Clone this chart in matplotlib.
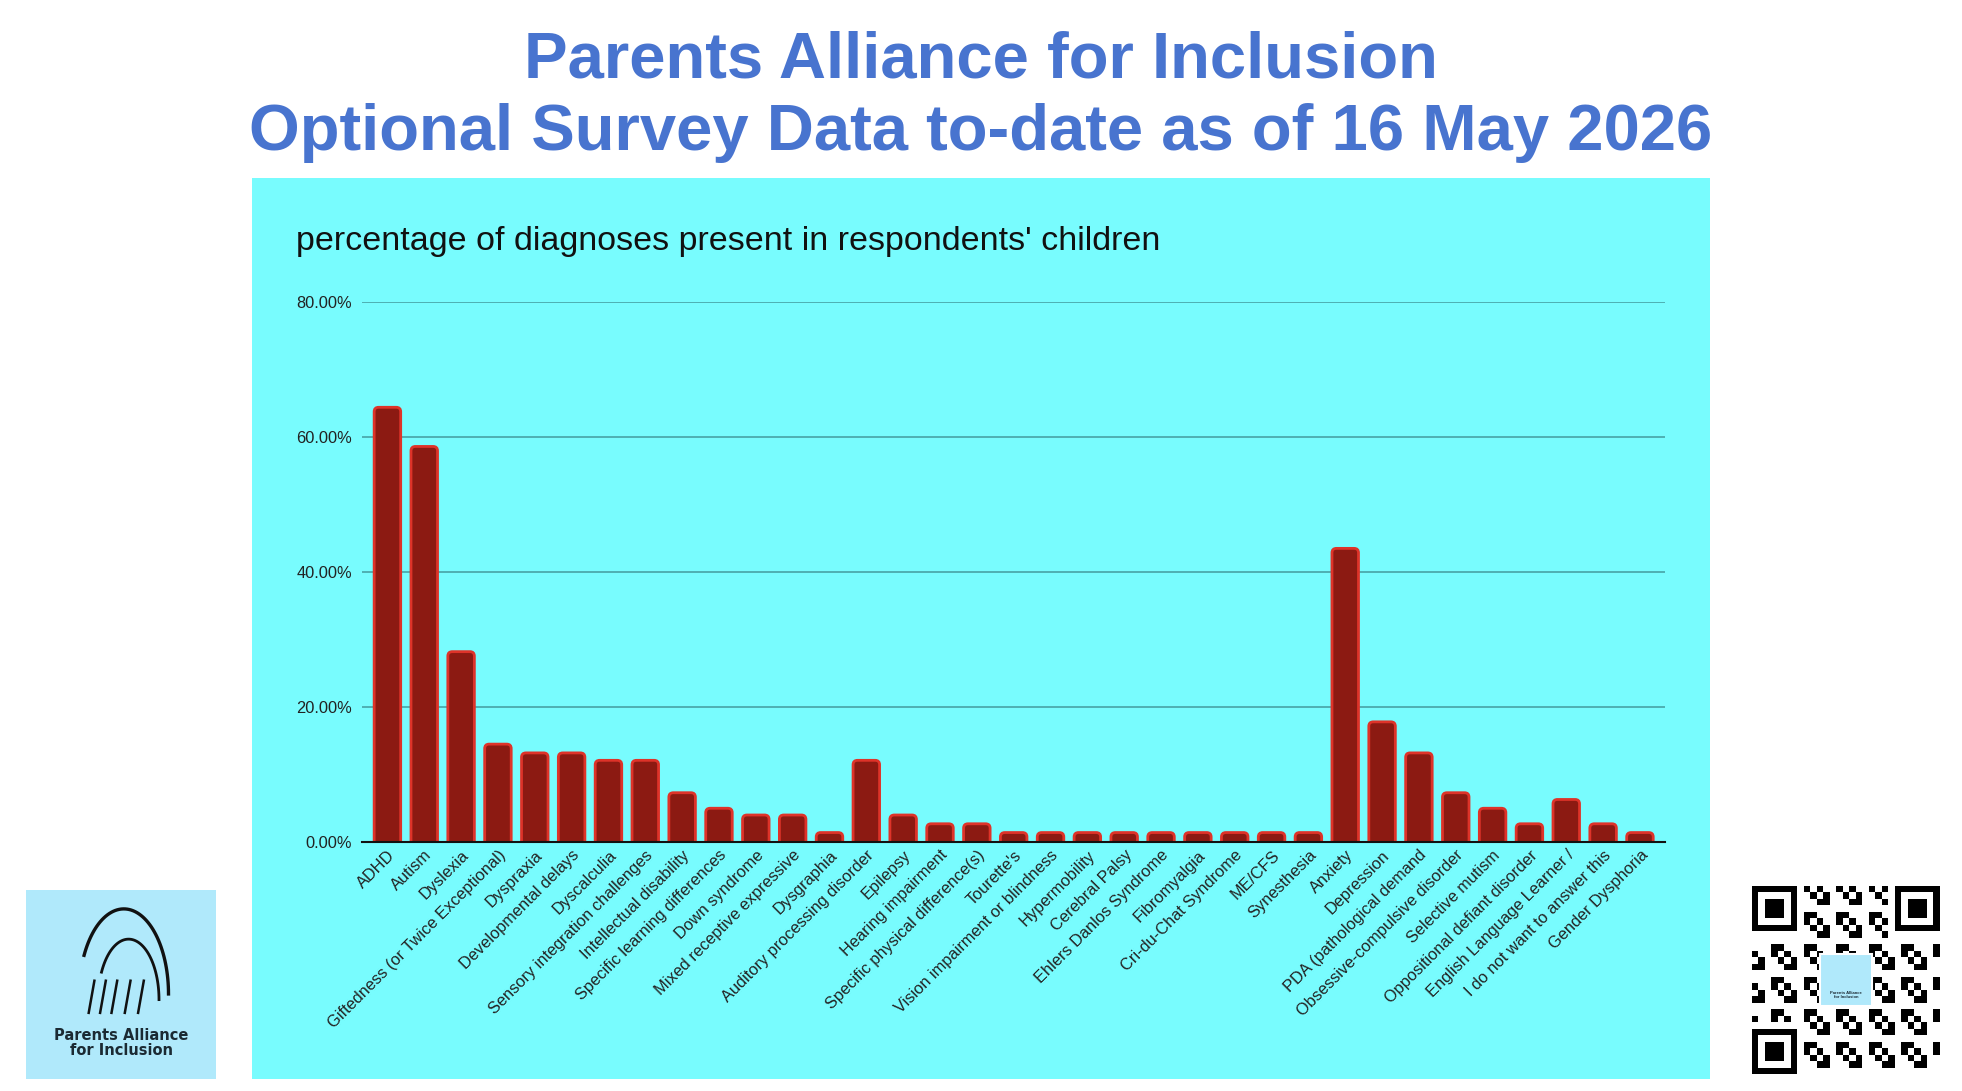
import numpy as np
import matplotlib
matplotlib.use("Agg")
import matplotlib.pyplot as plt
from matplotlib.patches import Rectangle, FancyBboxPatch
from matplotlib.ticker import FuncFormatter

plt.rcParams['font.family'] = ['Liberation Sans', 'DejaVu Sans']

# diagnoses and share of respondents (%)
diagnoses = [
    "ADHD", "Autism", "Dyslexia", "Giftedness (or Twice Exceptional)",
    "Dyspraxia", "Developmental delays", "Dyscalculia",
    "Sensory integration challenges", "Intellectual disability",
    "Specific learning differences", "Down syndrome",
    "Mixed receptive expressive", "Dysgraphia", "Auditory processing disorder",
    "Epilepsy", "Hearing impairment", "Specific physical difference(s)",
    "Tourette's", "Vision impairment or blindness", "Hypermobility",
    "Cerebral Palsy", "Ehlers Danlos Syndrome", "Fibromyalgia",
    "Cri-du-Chat Syndrome", "ME/CFS", "Synesthesia", "Anxiety", "Depression",
    "PDA (pathological demand", "Obsessive-compulsive disorder",
    "Selective mutism", "Oppositional defiant disorder",
    "English Language Learner /", "I do not want to answer this",
    "Gender Dysphoria",
]
percent = [
    64.4, 58.6, 28.2, 14.5, 13.2, 13.2, 12.1, 12.1, 7.3, 5.0, 4.0, 4.0, 1.4,
    12.1, 4.0, 2.7, 2.7, 1.4, 1.4, 1.4, 1.4, 1.4, 1.4, 1.4, 1.4, 1.4,
    43.5, 17.8, 13.2, 7.3, 5.0, 2.7, 6.3, 2.7, 1.4,
]
y_ticks = [0, 20, 40, 60, 80]

W, H = 1962, 1091
fig = plt.figure(figsize=(W / 100, H / 100), dpi=100)
fig.patch.set_facecolor('white')

# cyan chart panel
fig.patches.append(Rectangle((251.5 / W, 1 - 1079 / H), (1710 - 251.5) / W, (1079 - 178) / H,
                             transform=fig.transFigure, facecolor='#78FCFE', edgecolor='none', zorder=-5))

# slide title
title_col = '#4874CF'
fig.text(0.5, 1 - 77 / H, "Parents Alliance for Inclusion", ha='center', va='baseline',
         fontsize=47, fontweight='bold', color=title_col)
fig.text(0.5, 1 - 150 / H, "Optional Survey Data to-date as of 16 May 2026", ha='center', va='baseline',
         fontsize=47, fontweight='bold', color=title_col)

# chart title
fig.text(296.5 / W, 1 - 241.5 / H, "percentage of diagnoses present in respondents' children",
         ha='left', va='center', fontsize=24.5, color='#111111')

ax_rect = [362 / W, 1 - 842 / H, (1665 - 362) / W, (842 - 302) / H]
ax = fig.add_axes(ax_rect)
ax.set_facecolor('none')
x = np.arange(len(diagnoses))
ax.set_xlim(-0.69, len(diagnoses) - 1 + 0.68)
ax.set_ylim(0, 80)

# bars with rounded top corners (bottom corners sit below the axis and get clipped)
bar_w = 0.72
x_span = ax.get_xlim()[1] - ax.get_xlim()[0]
aspect = (80 / (ax_rect[3] * H)) / (x_span / (ax_rect[2] * W))
for xi, v in zip(x, percent):
    ax.add_patch(FancyBboxPatch((xi - bar_w / 2, -2), bar_w, v + 2,
                                boxstyle="round,pad=0,rounding_size=0.12", mutation_aspect=aspect,
                                facecolor='#8C1A12', edgecolor='#DE3329', linewidth=2.0, zorder=3))

ax.set_yticks(y_ticks)
ax.yaxis.set_major_formatter(FuncFormatter(lambda v, p: f"{v:.2f}%"))
ax.grid(axis='y', color='#4BAAAD', linewidth=1.3, zorder=1)
ax.set_axisbelow(True)
for s in ['left', 'right', 'top']:
    ax.spines[s].set_visible(False)
ax.spines['bottom'].set_color('#111111')
ax.spines['bottom'].set_linewidth(1.5)
ax.spines['bottom'].set_zorder(4)
ax.tick_params(axis='y', length=0, pad=7, labelsize=11.8, labelcolor='#222222')
ax.tick_params(axis='x', length=0, pad=4)
ax.set_xticks(x)
ax.set_xticklabels(diagnoses, rotation=45, ha='right', va='top', rotation_mode='anchor',
                   fontsize=11.8, color='#222222')

# logo, bottom left
lx = fig.add_axes([26 / W, 1 - 1079 / H, 190 / W, 189 / H])
lx.set_facecolor('#B0E9FB')
lx.set_xlim(0, 1)
lx.set_ylim(0, 1)
lx.set_xticks([])
lx.set_yticks([])
for s in lx.spines.values():
    s.set_visible(False)
t = np.linspace(0.15, 1.0, 60)
lx.plot(0.28 + 0.47 * (1 - np.cos(np.pi * t)) / 2, 0.45 + 0.45 * np.sin(np.pi * t), color='#111111', lw=2.4)
lx.plot(0.38 + 0.32 * (1 - np.cos(np.pi * t)) / 2, 0.42 + 0.32 * np.sin(np.pi * t), color='#111111', lw=2.0)
for px in [0.36, 0.42, 0.48, 0.55, 0.62]:
    lx.plot([px - 0.03, px], [0.35, 0.52], color='#111111', lw=1.8)
lx.text(0.5, 0.19, "Parents Alliance\nfor Inclusion", ha='center', va='center', fontsize=10.5,
        fontweight='bold', color='#1B2A33', linespacing=1.05, family=['DejaVu Sans'])

# QR code, bottom right (decorative pattern)
qx = fig.add_axes([1752 / W, 1 - 1074 / H, 188 / W, 188 / H])
n = 29
ii, jj = np.meshgrid(np.arange(n), np.arange(n))
qr = (((ii * 7 + jj * 13 + ii * jj) % 5) < 2).astype(float)
for (r0, c0) in [(0, 0), (0, n - 7), (n - 7, 0)]:
    qr[max(r0 - 1, 0):r0 + 8, max(c0 - 1, 0):c0 + 8] = 0
    qr[r0:r0 + 7, c0:c0 + 7] = 1
    qr[r0 + 1:r0 + 6, c0 + 1:c0 + 6] = 0
    qr[r0 + 2:r0 + 5, c0 + 2:c0 + 5] = 1
qx.imshow(qr, cmap='Greys', interpolation='nearest', extent=[0, n, n, 0])
qx.add_patch(Rectangle((10.5, 10.5), 8, 8, facecolor='#B0E9FB', edgecolor='white', lw=1.5))
qx.text(14.5, 16.8, "Parents Alliance\nfor Inclusion", ha='center', va='center', fontsize=3,
        color='#1B2A33', fontweight='bold')
qx.axis('off')

fig.savefig('out.png', dpi=100, facecolor='white')
